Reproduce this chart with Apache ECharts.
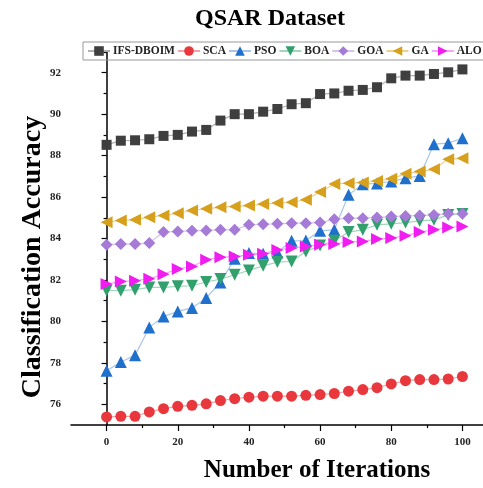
<!DOCTYPE html>
<html>
<head>
<meta charset="utf-8">
<script src="https://cdn.jsdelivr.net/npm/echarts@6/dist/echarts.min.js"></script>
<style>html,body{margin:0;padding:0;background:#fff}#c{width:483px;height:488px}</style>
</head>
<body>
<div id="c"></div>
<script>
var iterations = [0,4,8,12,16,20,24,28,32,36,40,44,48,52,56,60,64,68,72,76,80,84,88,92,96,100];
var ifsDboim = [88.52,88.72,88.74,88.79,88.95,89.00,89.16,89.24,89.69,90.00,90.00,90.12,90.25,90.48,90.53,90.97,91.00,91.13,91.17,91.30,91.73,91.86,91.86,91.94,92.02,92.16];
var sca = [75.39,75.42,75.42,75.63,75.79,75.90,75.95,76.02,76.18,76.27,76.34,76.39,76.39,76.39,76.43,76.47,76.52,76.63,76.71,76.80,76.98,77.14,77.19,77.19,77.22,77.34];
var pso = [77.62,78.04,78.36,79.71,80.24,80.48,80.65,81.13,81.88,83.02,83.30,83.26,83.33,83.89,83.90,84.37,84.42,86.11,86.62,86.66,86.75,86.91,87.02,88.55,88.60,88.84];
var boa = [81.49,81.48,81.53,81.64,81.64,81.69,81.72,81.90,82.04,82.25,82.46,82.68,82.86,82.89,83.37,83.66,83.89,84.31,84.42,84.66,84.71,84.77,84.85,84.90,85.14,85.18];
var goa = [83.70,83.73,83.73,83.78,84.31,84.34,84.37,84.39,84.42,84.42,84.66,84.69,84.71,84.74,84.74,84.77,84.93,84.98,84.98,85.01,85.06,85.09,85.11,85.14,85.19,85.19];
var ga = [84.79,84.87,84.90,85.03,85.11,85.22,85.35,85.43,85.51,85.54,85.59,85.66,85.71,85.75,85.87,86.24,86.63,86.67,86.70,86.78,86.88,87.12,87.23,87.34,87.83,87.87];
var alo = [81.80,81.93,81.96,82.06,82.28,82.53,82.65,82.97,83.10,83.13,83.21,83.26,83.45,83.54,83.61,83.70,83.74,83.83,83.86,83.97,84.02,84.13,84.31,84.42,84.53,84.58];
var xMajorTicks = [0,20,40,60,80,100];
var xMinorTicks = [10,30,50,70,90];
var yMajorTicks = [76,78,80,82,84,86,88,90,92];
var yMinorTicks = [77,79,81,83,85,87,89,91,93];

var seriesDefs = [
  {name:'IFS-DBOIM', data:ifsDboim, color:'#3f3f3f', line:'#b0b0b0', symbol:'rect', size:10},
  {name:'SCA', data:sca, color:'#e8383d', line:'#f3a3a5', symbol:'circle', size:11},
  {name:'PSO', data:pso, color:'#1f6fcc', line:'#a9c6ea', symbol:'triangle', size:12},
  {name:'BOA', data:boa, color:'#31a06c', line:'#a3d6bd', symbol:'path://M0,0 L10,0 L5,9 Z', size:12},
  {name:'GOA', data:goa, color:'#a67bd8', line:'#d6c3ee', symbol:'diamond', size:12},
  {name:'GA', data:ga, color:'#d6a01c', line:'#ecd092', symbol:'path://M10,0 L10,10 L0,5 Z', size:12},
  {name:'ALO', data:alo, color:'#f01cf0', line:'#f7a3f7', symbol:'path://M0,0 L0,10 L10,5 Z', size:12}
];

var font = 'Liberation Serif';
var chart = echarts.init(document.getElementById('c'), null, {renderer:'canvas'});
chart.setOption({
  animation:false,
  backgroundColor:'#fff',
  graphic:[
    {type:'text', x:270, y:19, style:{text:'QSAR Dataset', fontFamily:font, fontWeight:'bold', fontSize:24, fill:'#000', textAlign:'center', textVerticalAlign:'middle'}},
    {type:'text', x:317, y:471, style:{text:'Number of Iterations', fontFamily:font, fontWeight:'bold', fontSize:25, fill:'#000', textAlign:'center', textVerticalAlign:'middle'}},
    {type:'text', x:33, y:257, rotation:Math.PI/2, style:{text:'Classification Accuracy', fontFamily:font, fontWeight:'bold', fontSize:28, fill:'#000', textAlign:'center', textVerticalAlign:'middle'}}
  ],
  legend:{
    left:83, top:42, orient:'horizontal', width:440,
    padding:[3,2,3,4],
    borderColor:'#999', borderWidth:1,
    itemWidth:22, itemHeight:12, itemGap:2,
    textStyle:{fontFamily:font, fontWeight:'bold', fontSize:11.5, color:'#222', padding:[0,0,0,-2]},
    data:seriesDefs.map(function(s){return s.name;})
  },
  grid:{left:71, top:52, bottom:63, width:427, containLabel:false, outerBoundsMode:'none'},
  xAxis:[
    {type:'value', min:-10, max:110, interval:10,
     axisLine:{show:true, lineStyle:{color:'#000', width:1.5}},
     axisTick:{show:true, customValues:xMajorTicks, length:6, lineStyle:{color:'#000', width:1.2}},
     axisLabel:{show:true, customValues:xMajorTicks, margin:12, fontFamily:font, fontWeight:'bold', fontSize:11, color:'#222'},
     splitLine:{show:false}},
    {type:'value', min:-10, max:110, interval:10, position:'bottom',
     axisLine:{show:false},
     axisTick:{show:true, customValues:xMinorTicks, length:3, lineStyle:{color:'#000', width:1.2}},
     axisLabel:{show:false}, splitLine:{show:false}}
  ],
  yAxis:[
    {type:'value', min:75, max:93, interval:1, position:'left',
     axisLine:{show:true, lineStyle:{color:'#000', width:1.5}},
     axisTick:{show:true, customValues:yMajorTicks, length:5, lineStyle:{color:'#000', width:1.2}},
     axisLabel:{show:true, customValues:yMajorTicks, margin:10, fontFamily:font, fontWeight:'bold', fontSize:11, color:'#222'},
     splitLine:{show:false}},
    {type:'value', min:75, max:93, interval:1, position:'left', offset:0,
     axisLine:{show:false},
     axisTick:{show:true, customValues:yMinorTicks, length:3, lineStyle:{color:'#000', width:1.2}},
     axisLabel:{show:false}, splitLine:{show:false}}
  ],
  series:seriesDefs.map(function(s){
    return {
      name:s.name, type:'line', xAxisIndex:0, yAxisIndex:0,
      data:iterations.map(function(x,i){return [x, s.data[i]];}),
      symbol:s.symbol, symbolSize:s.size, showSymbol:true,
      itemStyle:{color:s.color},
      lineStyle:{color:s.line, width:1.2},
      emphasis:{disabled:true}
    };
  })
});
</script>
</body>
</html>
